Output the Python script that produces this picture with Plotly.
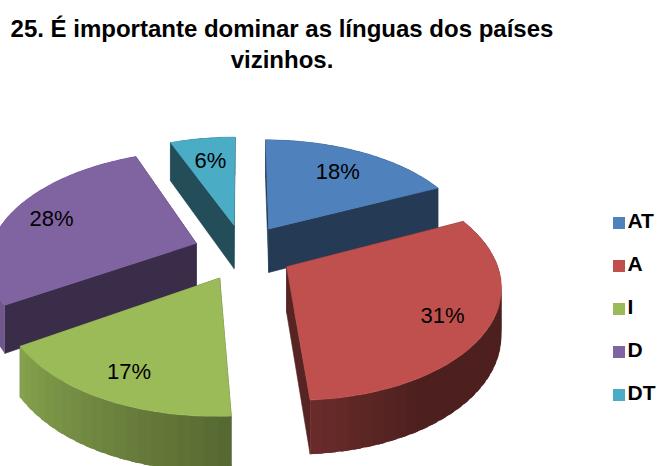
import math
import plotly.graph_objects as go

# ---- data ----
categories = ["AT", "A", "I", "D", "DT"]
values = [18, 31, 17, 28, 6]
title_lines = ["25. É importante dominar as línguas dos países", "vizinhos."]

# ---- styles and perspective projection of the tilted pie (pixels) ----
colors = ["#4F81BD", "#C0504D", "#9BBB59", "#8064A2", "#4BACC6"]
draw_order = [4, 0, 3, 2, 1]
label_radius = [0.72, 0.79, 0.8, 0.78, 0.72]
LABEL_DROP = 2
W, H = 660, 466
CX, CY = 243, 252          # pie centre
EX, EY = 0.24, 0.26        # explosion distance, in pie radii
A, B, K = 207, 108.8, 0.15 # radii and perspective
DEPTH = 45

def rgb(hex_color, f=1.0):
    c = [int(hex_color[i:i + 2], 16) for i in (1, 3, 5)]
    return "rgb(%d,%d,%d)" % tuple(min(255, round(v * f)) for v in c)

def project(deg, r, mid, drop=0.0):
    px = EX * math.sin(math.radians(mid)) + r * math.sin(math.radians(deg))
    py = EY * math.cos(math.radians(mid)) + r * math.cos(math.radians(deg))
    s = 1 / (1 + K * py)
    return CX + A * px * s, CY - B * py * s + drop * s

def shade(deg):
    pts = [(0, .40), (150, .40), (176, .55), (240, .88), (300, .88), (360, .40)]
    for (a0, f0), (a1, f1) in zip(pts, pts[1:]):
        if a0 <= deg <= a1:
            return f0 + (f1 - f0) * (deg - a0) / (a1 - a0)
    return .4

def poly(points, color, line_width=0.6):
    xs, ys = zip(*points)
    return go.Scatter(x=list(xs) + [xs[0]], y=list(ys) + [ys[0]], mode="lines", fill="toself",
                      fillcolor=color, line=dict(color=color, width=line_width),
                      hoverinfo="skip", showlegend=False)

total = sum(values)
spans, acc = [], 0.0
for v in values:
    spans.append((acc, acc + v / total * 360))
    acc += v / total * 360

fig = go.Figure()
label_x, label_y = [0] * 5, [0] * 5
for i in draw_order:
    a0, a1 = spans[i]
    mid = (a0 + a1) / 2
    n = max(2, int((a1 - a0) / 3))
    step = (a1 - a0) / n
    strips = []
    for j in range(n):
        d0 = a0 + step * j
        d1 = min(a1, d0 + step * 1.6)
        strips.append((d0, poly([project(d0, 1, mid), project(d1, 1, mid),
                                 project(d1, 1, mid, DEPTH), project(d0, 1, mid, DEPTH)],
                                rgb(colors[i], shade(d0 + step / 2)), line_width=0)))
    is_back = lambda d: math.cos(math.radians(d)) > 0
    # back part of the outer wall, then radial walls, then the front part
    for d, tr in strips:
        if is_back(d):
            fig.add_trace(tr)
    for edge in (a0, a1):
        fig.add_trace(poly([project(edge, 0, mid), project(edge, 1, mid),
                            project(edge, 1, mid, DEPTH), project(edge, 0, mid, DEPTH)],
                           rgb(colors[i], .45)))
    for d, tr in strips:
        if not is_back(d):
            fig.add_trace(tr)
    # top face
    arc = [project(a0 + (a1 - a0) * j / 60, 1, mid) for j in range(61)]
    fig.add_trace(poly([project(mid, 0, mid)] + arc, colors[i]))
    lx, ly = project(mid, label_radius[i], mid)
    label_x[i], label_y[i] = lx, ly + LABEL_DROP

fig.add_trace(go.Scatter(x=label_x, y=label_y, mode="text",
                         text=["%d%%" % v for v in values],
                         textfont=dict(family="Liberation Sans", size=22, color="#000000"),
                         hoverinfo="skip", showlegend=False))

# colour key
key_x = [619] * len(categories)
key_y = [223 + 43 * i for i in range(len(categories))]
fig.add_trace(go.Scatter(x=key_x, y=key_y, mode="markers+text",
                         marker=dict(symbol="square", size=12, color=colors),
                         text=categories, textposition="middle right",
                         textfont=dict(family="Liberation Sans", size=21, color="#000000", weight="bold"),
                         hoverinfo="skip", showlegend=False, cliponaxis=False))

fig.update_layout(
    width=W, height=H, margin=dict(l=0, r=0, t=0, b=0),
    paper_bgcolor="white", plot_bgcolor="white", showlegend=False,
    title=dict(text="<br>".join(title_lines), x=282 / W, xanchor="center", y=0.92, yanchor="top",
               font=dict(family="Liberation Sans", size=24, color="#000000", weight="bold")),
    xaxis=dict(range=[0, W], visible=False, fixedrange=True),
    yaxis=dict(range=[H, 0], visible=False, fixedrange=True),
)
fig.write_html("out.html", config=dict(displayModeBar=False),
               post_script="document.body.style.margin='0';document.body.style.overflow='hidden';")
